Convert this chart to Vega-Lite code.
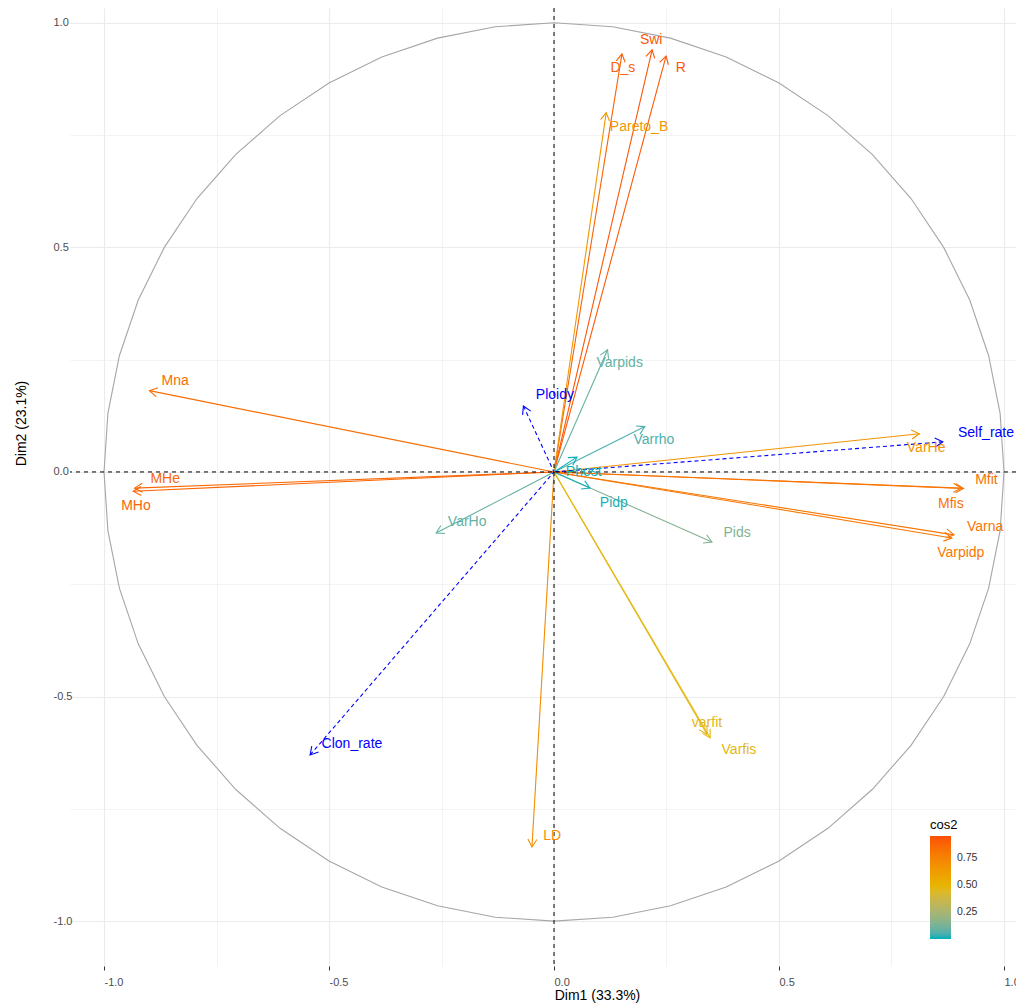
{
  "$schema": "https://vega.github.io/schema/vega-lite/v6.json",
  "width": 946,
  "height": 958,
  "autosize": {"type": "none"},
  "padding": {"left": 70, "top": 8, "right": 0, "bottom": 39},
  "config": {"view": {"stroke": null}, "font": "Liberation Sans"},
  "resolve": {"scale": {"color": "independent"}, "legend": {"color": "independent"}},
  "datasets": {
    "vars": [
      {"name": "Swi", "x": 0.218, "y": 0.940, "lx": 0.216, "ly": 0.962, "cos2": 0.931, "type": "active"},
      {"name": "D_s", "x": 0.151, "y": 0.931, "lx": 0.153, "ly": 0.900, "cos2": 0.890, "type": "active"},
      {"name": "R", "x": 0.249, "y": 0.926, "lx": 0.282, "ly": 0.900, "cos2": 0.919, "type": "active"},
      {"name": "Pareto_B", "x": 0.116, "y": 0.800, "lx": 0.189, "ly": 0.768, "cos2": 0.653, "type": "active"},
      {"name": "Varpids", "x": 0.119, "y": 0.272, "lx": 0.146, "ly": 0.243, "cos2": 0.088, "type": "active"},
      {"name": "Varrho", "x": 0.202, "y": 0.101, "lx": 0.222, "ly": 0.071, "cos2": 0.051, "type": "active"},
      {"name": "Mna", "x": -0.899, "y": 0.181, "lx": -0.842, "ly": 0.203, "cos2": 0.841, "type": "active"},
      {"name": "MHe", "x": -0.932, "y": -0.036, "lx": -0.864, "ly": -0.016, "cos2": 0.870, "type": "active"},
      {"name": "MHo", "x": -0.935, "y": -0.043, "lx": -0.929, "ly": -0.076, "cos2": 0.876, "type": "active"},
      {"name": "VarHo", "x": -0.262, "y": -0.136, "lx": -0.193, "ly": -0.111, "cos2": 0.087, "type": "active"},
      {"name": "LD", "x": -0.049, "y": -0.835, "lx": -0.004, "ly": -0.811, "cos2": 0.700, "type": "active"},
      {"name": "varfit", "x": 0.340, "y": -0.584, "lx": 0.340, "ly": -0.559, "cos2": 0.457, "type": "active"},
      {"name": "Varfis", "x": 0.347, "y": -0.592, "lx": 0.411, "ly": -0.619, "cos2": 0.470, "type": "active"},
      {"name": "Pids", "x": 0.351, "y": -0.156, "lx": 0.407, "ly": -0.136, "cos2": 0.148, "type": "active"},
      {"name": "Pidp", "x": 0.080, "y": -0.036, "lx": 0.133, "ly": -0.069, "cos2": 0.008, "type": "active"},
      {"name": "Phost", "x": 0.051, "y": 0.033, "lx": 0.066, "ly": 0.0, "cos2": 0.004, "type": "active"},
      {"name": "VarHe", "x": 0.812, "y": 0.085, "lx": 0.827, "ly": 0.053, "cos2": 0.665, "type": "active"},
      {"name": "Mfit", "x": 0.910, "y": -0.037, "lx": 0.961, "ly": -0.018, "cos2": 0.828, "type": "active"},
      {"name": "Mfis", "x": 0.905, "y": -0.036, "lx": 0.882, "ly": -0.071, "cos2": 0.815, "type": "active"},
      {"name": "Varna", "x": 0.889, "y": -0.140, "lx": 0.958, "ly": -0.122, "cos2": 0.807, "type": "active"},
      {"name": "Varpidp", "x": 0.884, "y": -0.147, "lx": 0.904, "ly": -0.180, "cos2": 0.803, "type": "active"},
      {"name": "Ploidy", "x": -0.068, "y": 0.147, "lx": 0.002, "ly": 0.171, "type": "sup"},
      {"name": "Clon_rate", "x": -0.542, "y": -0.630, "lx": -0.449, "ly": -0.606, "type": "sup"},
      {"name": "Self_rate", "x": 0.864, "y": 0.067, "lx": 0.960, "ly": 0.087, "type": "sup"}
    ],
    "circle": [
      {"i": 0, "x": 1, "y": 0},
      {"i": 1, "x": 0.9914, "y": 0.1305},
      {"i": 2, "x": 0.9659, "y": 0.2588},
      {"i": 3, "x": 0.9239, "y": 0.3827},
      {"i": 4, "x": 0.8660, "y": 0.5},
      {"i": 5, "x": 0.7934, "y": 0.6088},
      {"i": 6, "x": 0.7071, "y": 0.7071},
      {"i": 7, "x": 0.6088, "y": 0.7934},
      {"i": 8, "x": 0.5, "y": 0.8660},
      {"i": 9, "x": 0.3827, "y": 0.9239},
      {"i": 10, "x": 0.2588, "y": 0.9659},
      {"i": 11, "x": 0.1305, "y": 0.9914},
      {"i": 12, "x": 0, "y": 1},
      {"i": 13, "x": -0.1305, "y": 0.9914},
      {"i": 14, "x": -0.2588, "y": 0.9659},
      {"i": 15, "x": -0.3827, "y": 0.9239},
      {"i": 16, "x": -0.5, "y": 0.8660},
      {"i": 17, "x": -0.6088, "y": 0.7934},
      {"i": 18, "x": -0.7071, "y": 0.7071},
      {"i": 19, "x": -0.7934, "y": 0.6088},
      {"i": 20, "x": -0.8660, "y": 0.5},
      {"i": 21, "x": -0.9239, "y": 0.3827},
      {"i": 22, "x": -0.9659, "y": 0.2588},
      {"i": 23, "x": -0.9914, "y": 0.1305},
      {"i": 24, "x": -1, "y": 0},
      {"i": 25, "x": -0.9914, "y": -0.1305},
      {"i": 26, "x": -0.9659, "y": -0.2588},
      {"i": 27, "x": -0.9239, "y": -0.3827},
      {"i": 28, "x": -0.8660, "y": -0.5},
      {"i": 29, "x": -0.7934, "y": -0.6088},
      {"i": 30, "x": -0.7071, "y": -0.7071},
      {"i": 31, "x": -0.6088, "y": -0.7934},
      {"i": 32, "x": -0.5, "y": -0.8660},
      {"i": 33, "x": -0.3827, "y": -0.9239},
      {"i": 34, "x": -0.2588, "y": -0.9659},
      {"i": 35, "x": -0.1305, "y": -0.9914},
      {"i": 36, "x": 0, "y": -1},
      {"i": 37, "x": 0.1305, "y": -0.9914},
      {"i": 38, "x": 0.2588, "y": -0.9659},
      {"i": 39, "x": 0.3827, "y": -0.9239},
      {"i": 40, "x": 0.5, "y": -0.8660},
      {"i": 41, "x": 0.6088, "y": -0.7934},
      {"i": 42, "x": 0.7071, "y": -0.7071},
      {"i": 43, "x": 0.7934, "y": -0.6088},
      {"i": 44, "x": 0.8660, "y": -0.5},
      {"i": 45, "x": 0.9239, "y": -0.3827},
      {"i": 46, "x": 0.9659, "y": -0.2588},
      {"i": 47, "x": 0.9914, "y": -0.1305},
      {"i": 48, "x": 1, "y": 0}
    ]
  },
  "layer": [
    {
      "data": {"name": "circle"},
      "mark": {"type": "line", "color": "#A6A6A6", "strokeWidth": 1.1},
      "encoding": {
        "order": {"field": "i", "type": "quantitative"},
        "x": {
          "field": "x", "type": "quantitative",
          "scale": {"domain": [-1.0756, 1.0267], "nice": false, "zero": false},
          "axis": {
            "title": "Dim1 (33.3%)",
            "values": [-1, -0.75, -0.5, -0.25, 0, 0.25, 0.5, 0.75, 1],
            "domain": false,
            "labelExpr": "abs(datum.value*2-round(datum.value*2))<0.001 ? ((datum.value<0?'-':'')+format(abs(datum.value),'.1f')) : ''",
            "labelAlign": "left", "labelBaseline": "top", "labelPadding": 6,
            "labelFontSize": 11, "labelColor": "#4D4D4D", "labelFont": "Liberation Sans",
            "labelOverlap": false, "labelFlush": false, "labelBound": false,
            "tickSize": 4, "tickColor": "#333333", "tickWidth": 1,
            "tickOpacity": {"condition": {"test": "abs(datum.value*2-round(datum.value*2))<0.001", "value": 1}, "value": 0},
            "gridColor": "#EBEBEB",
            "gridWidth": {"condition": {"test": "abs(datum.value*2-round(datum.value*2))<0.001", "value": 1.1}, "value": 0.6},
            "titleFontSize": 14, "titleFontWeight": "normal", "titleColor": "#000000", "titleFont": "Liberation Sans",
            "titleX": 527, "titleY": 29, "titleAlign": "center", "titleBaseline": "middle"
          }
        },
        "y": {
          "field": "y", "type": "quantitative",
          "scale": {"domain": [-1.1, 1.033], "nice": false, "zero": false},
          "axis": {
            "title": "Dim2 (23.1%)",
            "values": [-1, -0.75, -0.5, -0.25, 0, 0.25, 0.5, 0.75, 1],
            "domain": false,
            "labelExpr": "abs(datum.value*2-round(datum.value*2))<0.001 ? ((datum.value<0?'-':'')+format(abs(datum.value),'.1f')) : ''",
            "labelAlign": "left", "labelBaseline": "middle", "labelPadding": 17,
            "labelFontSize": 11, "labelColor": "#4D4D4D", "labelFont": "Liberation Sans",
            "labelOverlap": false, "labelFlush": false, "labelBound": false,
            "ticks": false, "tickSize": 0,
            "gridColor": "#EBEBEB",
            "gridWidth": {"condition": {"test": "abs(datum.value*2-round(datum.value*2))<0.001", "value": 1.1}, "value": 0.6},
            "titleFontSize": 14, "titleFontWeight": "normal", "titleColor": "#000000", "titleFont": "Liberation Sans",
            "titleX": -49, "titleY": 415, "titleAngle": -90, "titleAlign": "center", "titleBaseline": "middle"
          }
        }
      }
    },
    {
      "data": {"name": "vars"},
      "transform": [{"filter": "datum.type === 'active'"}],
      "mark": {"type": "rule", "strokeWidth": 1.1},
      "encoding": {
        "x": {"field": "x", "type": "quantitative"},
        "y": {"field": "y", "type": "quantitative"},
        "x2": {"datum": 0},
        "y2": {"datum": 0},
        "color": {
          "field": "cos2", "type": "quantitative",
          "scale": {"domain": [0.002, 0.479, 0.956], "range": ["#00AFBB", "#E7B800", "#FC4E07"], "interpolate": "lab"},
          "legend": {
            "type": "gradient",
            "title": "cos2", "orient": "none", "legendX": 860, "legendY": 811, "direction": "vertical",
            "values": [0.25, 0.5, 0.75], "format": ".2f",
            "gradientLength": 103, "gradientThickness": 21, "gradientStrokeWidth": 0,
            "labelFontSize": 10.5, "labelColor": "#333333", "labelOffset": 6, "labelFont": "Liberation Sans", "labelOverlap": false,
            "titleFontSize": 13, "titleFontWeight": "normal", "titleColor": "#000000", "titleFont": "Liberation Sans", "titlePadding": 4
          }
        }
      }
    },
    {
      "data": {"name": "vars"},
      "transform": [
        {"filter": "datum.type === 'active'"},
        {"calculate": "atan2(datum.x, datum.y) * 180 / PI", "as": "ang"}
      ],
      "mark": {"type": "point", "shape": "M-0.5,0.866L0,0L0.5,0.866", "filled": false, "size": 324, "strokeWidth": 1.1, "opacity": 1},
      "encoding": {
        "x": {"field": "x", "type": "quantitative"},
        "y": {"field": "y", "type": "quantitative"},
        "angle": {"field": "ang", "type": "quantitative", "scale": null},
        "color": {
          "field": "cos2", "type": "quantitative",
          "scale": {"domain": [0.002, 0.479, 0.956], "range": ["#00AFBB", "#E7B800", "#FC4E07"], "interpolate": "lab"},
          "legend": null
        }
      }
    },
    {
      "data": {"name": "vars"},
      "transform": [{"filter": "datum.type === 'sup'"}],
      "mark": {"type": "rule", "strokeWidth": 1.1, "color": "#0000FF", "strokeDash": [4, 3]},
      "encoding": {
        "x": {"field": "x", "type": "quantitative"},
        "y": {"field": "y", "type": "quantitative"},
        "x2": {"datum": 0},
        "y2": {"datum": 0}
      }
    },
    {
      "data": {"name": "vars"},
      "transform": [
        {"filter": "datum.type === 'sup'"},
        {"calculate": "atan2(datum.x, datum.y) * 180 / PI", "as": "ang"}
      ],
      "mark": {"type": "point", "shape": "M-0.5,0.866L0,0L0.5,0.866", "filled": false, "size": 324, "strokeWidth": 1.1, "opacity": 1, "color": "#0000FF"},
      "encoding": {
        "x": {"field": "x", "type": "quantitative"},
        "y": {"field": "y", "type": "quantitative"},
        "angle": {"field": "ang", "type": "quantitative", "scale": null}
      }
    },
    {
      "data": {"values": [{}]},
      "mark": {"type": "rule", "color": "#000000", "strokeWidth": 1, "strokeDash": [4, 4]},
      "encoding": {"x": {"datum": 0, "type": "quantitative"}}
    },
    {
      "data": {"values": [{}]},
      "mark": {"type": "rule", "color": "#000000", "strokeWidth": 1, "strokeDash": [4, 4]},
      "encoding": {"y": {"datum": 0, "type": "quantitative"}}
    },
    {
      "data": {"name": "vars"},
      "transform": [{"filter": "datum.type === 'active'"}],
      "mark": {"type": "text", "fontSize": 14, "font": "Liberation Sans", "align": "center", "baseline": "middle"},
      "encoding": {
        "x": {"field": "lx", "type": "quantitative"},
        "y": {"field": "ly", "type": "quantitative"},
        "text": {"field": "name"},
        "color": {
          "field": "cos2", "type": "quantitative",
          "scale": {"domain": [0.002, 0.479, 0.956], "range": ["#00AFBB", "#E7B800", "#FC4E07"], "interpolate": "lab"},
          "legend": null
        }
      }
    },
    {
      "data": {"name": "vars"},
      "transform": [{"filter": "datum.type === 'sup'"}],
      "mark": {"type": "text", "fontSize": 14, "font": "Liberation Sans", "align": "center", "baseline": "middle", "color": "#0000FF"},
      "encoding": {
        "x": {"field": "lx", "type": "quantitative"},
        "y": {"field": "ly", "type": "quantitative"},
        "text": {"field": "name"}
      }
    }
  ]
}
